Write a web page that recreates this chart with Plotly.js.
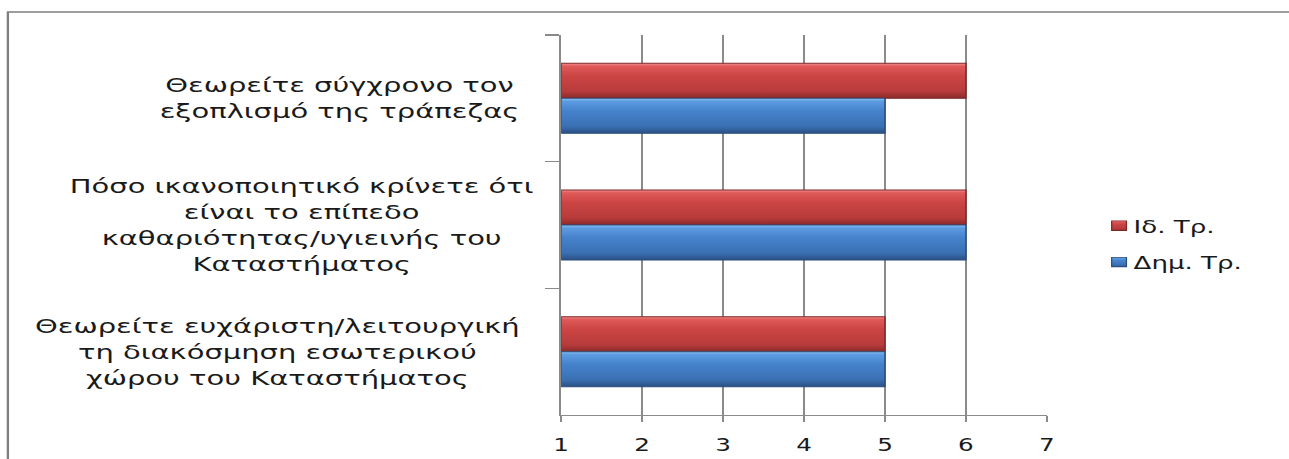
<!DOCTYPE html>
<html>
<head>
<meta charset="utf-8">
<script src="https://cdn.plot.ly/plotly-3.0.1.min.js"></script>
<style>
  html, body { margin: 0; padding: 0; background: #ffffff; overflow: hidden; }
  /* the chart is laid out narrow and widened horizontally, like the wide-set original */
  #chart { width: 889px; height: 459px; transform: scaleX(1.45); transform-origin: 0 0; }
</style>
</head>
<body>
<div id="chart"></div>
<script>
// Survey questions (top to bottom)
const categories = [
  'Θεωρείτε σύγχρονο τον<br>εξοπλισμό της τράπεζας',
  'Πόσο ικανοποιητικό κρίνετε ότι<br>είναι το επίπεδο<br>καθαριότητας/υγιεινής του<br>Καταστήματος',
  'Θεωρείτε ευχάριστη/λειτουργική<br>τη διακόσμηση εσωτερικού<br>χώρου του Καταστήματος'
];
// Mean scores per bank type
const privateBanks = [6, 6, 5];   // Ιδ. Τρ.
const publicBanks  = [5, 6, 5];   // Δημ. Τρ.
const seriesNames  = ['Ιδ. Τρ.', 'Δημ. Τρ.'];
// Scale starts at 1
const scaleStart = 1;
const xTicks = [1, 2, 3, 4, 5, 6, 7];

const FONT = 'DejaVu Sans, Verdana, sans-serif';
const GRID = '#8a8a8a';

function barTrace(name, values, fill, edge, group) {
  return {
    type: 'bar',
    orientation: 'h',
    name: name,
    legendgroup: group,
    y: categories,
    x: values.map(v => v - scaleStart),
    base: scaleStart,
    marker: { color: fill, line: { color: edge, width: 1 } },
    hoverinfo: 'skip'
  };
}

const data = [
  barTrace(seriesNames[0], privateBanks, '#cc4444', '#7e2727', 'a'),
  barTrace(seriesNames[1], publicBanks, '#4682cc', '#2a4d7e', 'b')
];

// Question labels, centred blocks to the left of the axis
const labelCenters = [-0.457, -0.533, -0.585];
const annotations = categories.map((c, i) => ({
  xref: 'paper', yref: 'y',
  x: labelCenters[i], y: c,
  xanchor: 'center', yanchor: 'middle',
  align: 'center',
  text: c,
  showarrow: false,
  font: { family: FONT, size: 20, color: '#1a1a1a' }
}));

const layout = {
  width: 889, height: 459,
  margin: { l: 387, r: 167, t: 35, b: 44, pad: 0 },
  paper_bgcolor: '#ffffff',
  plot_bgcolor: '#ffffff',
  barmode: 'group',
  bargap: 0.447,
  bargroupgap: 0,
  showlegend: true,
  legend: {
    x: 1.059, y: 0.45, xanchor: 'left', yanchor: 'middle',
    traceorder: 'grouped',
    tracegroupgap: 10,
    itemwidth: 30,
    font: { family: FONT, size: 18, color: '#1a1a1a' },
    bgcolor: 'rgba(0,0,0,0)'
  },
  xaxis: {
    range: [1, 7],
    tickvals: xTicks,
    ticktext: xTicks.map(String),
    ticks: 'outside', ticklen: 6, tickwidth: 1.2, tickcolor: GRID,
    ticklabelstandoff: 8,
    showline: true, linecolor: GRID, linewidth: 1.2,
    showgrid: true, gridcolor: GRID, gridwidth: 1.2,
    zeroline: false,
    tickfont: { family: FONT, size: 17, color: '#1a1a1a' },
    fixedrange: true
  },
  yaxis: {
    type: 'category',
    autorange: 'reversed',
    tickson: 'boundaries',
    ticks: 'outside', ticklen: 10, tickwidth: 1.2, tickcolor: GRID,
    showticklabels: false,
    showline: true, linecolor: GRID, linewidth: 1.2,
    showgrid: false, zeroline: false,
    fixedrange: true
  },
  annotations: annotations,
  shapes: [{
    type: 'rect', xref: 'paper', yref: 'paper',
    x0: -1.139, x1: 2, y0: -0.5, y1: 1.0605,
    line: { color: '#7f7f7f', width: 1.6 },
    fillcolor: 'rgba(0,0,0,0)',
    layer: 'below'
  }]
};

// Glossy vertical gradients for the bars and legend keys
function addGradients(gd) {
  const ns = 'http://www.w3.org/2000/svg';
  const svg = gd.querySelector('svg.main-svg');
  let defs = svg.querySelector('defs');
  if (!defs) { defs = document.createElementNS(ns, 'defs'); svg.insertBefore(defs, svg.firstChild); }
  const ramps = {
    gradRed:  [[0, '#f49090'], [0.08, '#e05a5a'], [0.35, '#cd4545'], [0.8, '#b73b3b'], [1, '#8a2a2a']],
    gradBlue: [[0, '#92c8f6'], [0.08, '#5e9ce2'], [0.35, '#4683cd'], [0.8, '#3a70b3'], [1, '#2a4f82']]
  };
  Object.keys(ramps).forEach(id => {
    const g = document.createElementNS(ns, 'linearGradient');
    g.setAttribute('id', id);
    g.setAttribute('x1', '0'); g.setAttribute('y1', '0');
    g.setAttribute('x2', '0'); g.setAttribute('y2', '1');
    ramps[id].forEach(([o, c]) => {
      const s = document.createElementNS(ns, 'stop');
      s.setAttribute('offset', o);
      s.setAttribute('stop-color', c);
      g.appendChild(s);
    });
    defs.appendChild(g);
  });
  const ids = ['gradRed', 'gradBlue'];
  gd.querySelectorAll('.barlayer .trace').forEach((t, i) => {
    t.querySelectorAll('path').forEach(p => { p.style.fill = 'url(#' + ids[i] + ')'; });
  });
  gd.querySelectorAll('.legend .traces').forEach((t, i) => {
    t.querySelectorAll('.legendpoints path').forEach(p => {
      p.style.fill = 'url(#' + ids[i] + ')';
      // sit the key right next to its label, slightly flatter
      p.setAttribute('transform', 'translate(30,0) scale(0.85,0.8)');
    });
  });
}

Plotly.newPlot('chart', data, layout, { staticPlot: true, displayModeBar: false })
  .then(addGradients);
</script>
</body>
</html>
